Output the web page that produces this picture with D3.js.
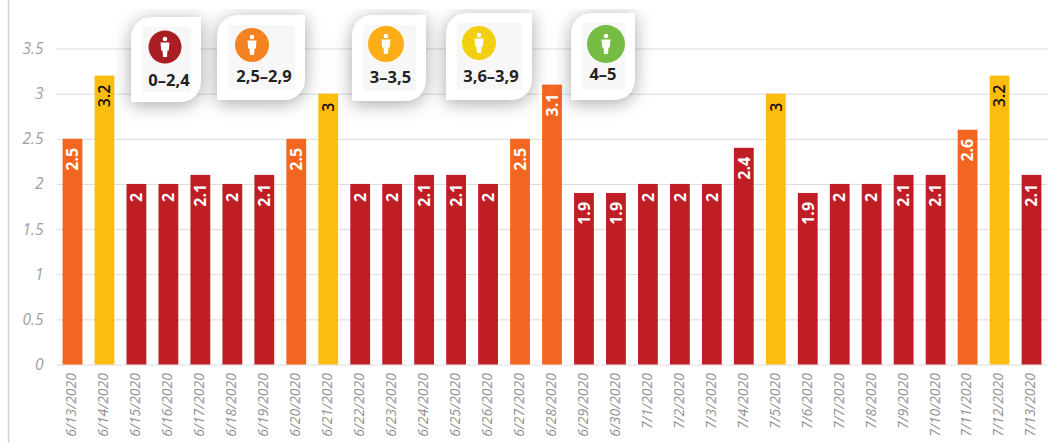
<!DOCTYPE html>
<html>
<head>
<meta charset="utf-8">
<script src="https://cdnjs.cloudflare.com/ajax/libs/d3/7.8.5/d3.min.js"></script>
<style>
    body { margin: 0; background: #fff; }
    svg { display: block; }
    text { font-family: "Open Sans", sans-serif; }
</style>
</head>
<body>
<div id="chart"></div>
<script>
const dates = ["6/13/2020", "6/14/2020", "6/15/2020", "6/16/2020", "6/17/2020", "6/18/2020", "6/19/2020", "6/20/2020",
    "6/21/2020", "6/22/2020", "6/23/2020", "6/24/2020", "6/25/2020", "6/26/2020", "6/27/2020", "6/28/2020",
    "6/29/2020", "6/30/2020", "7/1/2020", "7/2/2020", "7/3/2020", "7/4/2020", "7/5/2020", "7/6/2020",
    "7/7/2020", "7/8/2020", "7/9/2020", "7/10/2020", "7/11/2020", "7/12/2020", "7/13/2020"];
const values = [2.5, 3.2, 2, 2, 2.1, 2, 2.1, 2.5, 3, 2, 2, 2.1, 2.1, 2, 2.5, 3.1,
    1.9, 1.9, 2, 2, 2, 2.4, 3, 1.9, 2, 2, 2.1, 2.1, 2.6, 3.2, 2.1];
// 0 red, 1 orange, 2 yellow (6/28 is orange in the source even at 3.1)
const levels = [1, 2, 0, 0, 0, 0, 0, 1, 2, 0, 0, 0, 0, 0, 1, 1,
    0, 0, 0, 0, 0, 0, 2, 0, 0, 0, 0, 0, 1, 2, 0];
const yTicks = [0, 0.5, 1, 1.5, 2, 2.5, 3, 3.5];
const legendLabels = ["0\u20132,4", "2,5\u20132,9", "3\u20133,5", "3,6\u20133,9", "4\u20135"];

const width = 1050, height = 443;
const barColor = d3.scaleOrdinal([0, 1, 2], ["#bf1e25", "#f36621", "#fdbd10"]);
const labelColor = d3.scaleOrdinal([0, 1, 2], ["#fff", "#fff", "#111"]);

const svg = d3.select("#chart").append("svg")
    .attr("width", width)
    .attr("height", height);

const x = d3.scaleBand().domain(dates).range([56.5, 1047.5]).paddingInner(0.38).paddingOuter(0.19);
const y = d3.scaleLinear().domain([0, 3.5]).range([364.5, 48.5]);

// left border line
svg.append("line")
    .attr("x1", 8.5).attr("x2", 8.5)
    .attr("y1", 0).attr("y2", height)
    .attr("stroke", "#d2d2d2")
    .attr("stroke-width", 1.5);

const yAxis = svg.append("g")
    .attr("transform", "translate(56.5,0)")
    .call(d3.axisLeft(y).tickValues(yTicks).tickSize(-991).tickPadding(13).tickFormat(d => d));
yAxis.select(".domain").remove();
yAxis.selectAll("line").attr("stroke", "#dcdada");
yAxis.selectAll("text")
    .attr("fill", "#a0a0a0")
    .style("font-size", "15.5px")
    .style("font-style", "italic");

const xAxis = svg.append("g")
    .attr("transform", "translate(0,364)")
    .call(d3.axisBottom(x).tickSize(0));
xAxis.select(".domain").remove();
xAxis.selectAll("text")
    .attr("fill", "#8f8f8f")
    .attr("transform", "rotate(-90)")
    .attr("text-anchor", "end")
    .attr("x", -9)
    .attr("y", -1)
    .attr("dy", "0.35em")
    .style("font-size", "14px")
    .style("font-style", "italic");

svg.selectAll(".bar")
    .data(values)
    .enter().append("rect")
    .attr("class", "bar")
    .attr("fill", (d, i) => barColor(levels[i]))
    .attr("x", (d, i) => x(dates[i]))
    .attr("y", d => y(d))
    .attr("width", x.bandwidth())
    .attr("height", d => y(0) - y(d));

svg.selectAll(".bar-label")
    .data(values)
    .enter().append("text")
    .attr("class", "bar-label")
    .attr("transform", (d, i) => `translate(${x(dates[i]) + x.bandwidth() / 2},${y(d) + 9}) rotate(-90)`)
    .attr("text-anchor", "end")
    .attr("dy", "0.36em")
    .attr("fill", (d, i) => labelColor(levels[i]))
    .style("font-size", "16px")
    .style("font-weight", (d, i) => levels[i] === 2 ? 600 : 700)
    .text(d => d);

// legend cards sit on top of the chart
const legendColors = ["#a81e23", "#f58220", "#fbae17", "#f2d010", "#76bc43"];
const cards = [
    { x: 131, y: 17, w: 70, h: 85, cx: 165, cy: 47, r: 16.5, tx: 169, ty: 86 },
    { x: 217, y: 15, w: 88, h: 85, cx: 252, cy: 45, r: 17, tx: 264, ty: 82 },
    { x: 352, y: 15, w: 74, h: 86, cx: 386, cy: 44, r: 18, tx: 390.5, ty: 83 },
    { x: 446, y: 13, w: 86, h: 87, cx: 479, cy: 43, r: 17, tx: 491, ty: 82 },
    { x: 571, y: 13, w: 64, h: 87, cx: 606, cy: 44, r: 19, tx: 603, ty: 80 }
];

const defs = svg.append("defs");
const shadow = defs.append("filter").attr("id", "card-shadow")
    .attr("x", "-40%").attr("y", "-40%").attr("width", "180%").attr("height", "180%");
shadow.append("feDropShadow")
    .attr("dx", 0).attr("dy", 3)
    .attr("stdDeviation", 9)
    .attr("flood-color", "#000")
    .attr("flood-opacity", 0.35);
defs.append("clipPath").attr("id", "legend-clip")
    .append("rect").attr("x", 0).attr("y", 9).attr("width", width).attr("height", height);

// rounded top-left and bottom-right, square on the other two corners
function cardPath(c) {
    const r = 24;
    return `M${c.x + r},${c.y}H${c.x + c.w}V${c.y + c.h - r}Q${c.x + c.w},${c.y + c.h} ${c.x + c.w - r},${c.y + c.h}H${c.x}V${c.y + r}Q${c.x},${c.y} ${c.x + r},${c.y}Z`;
}

const legend = svg.append("g").attr("clip-path", "url(#legend-clip)");
const card = legend.selectAll(".card")
    .data(legendLabels)
    .enter().append("g")
    .attr("class", "card");

card.append("path")
    .attr("d", (d, i) => cardPath(cards[i]))
    .attr("fill", "#fff")
    .attr("filter", "url(#card-shadow)");
card.append("rect")
    .attr("x", (d, i) => cards[i].x + 11)
    .attr("y", (d, i) => cards[i].y + 10)
    .attr("width", (d, i) => cards[i].w - 21)
    .attr("height", (d, i) => cards[i].h - 20)
    .attr("rx", 3)
    .attr("fill", "#f7f7f7");
card.append("circle")
    .attr("cx", (d, i) => cards[i].cx)
    .attr("cy", (d, i) => cards[i].cy)
    .attr("r", (d, i) => cards[i].r)
    .attr("fill", (d, i) => legendColors[i]);

// little person inside each circle
const person = card.append("g")
    .attr("transform", (d, i) => `translate(${cards[i].cx},${cards[i].cy})`)
    .attr("fill", "#fff");
person.append("circle").attr("cy", -8).attr("r", 2.3);
person.append("path").attr("d", "M-4.5,-4.5H4.5L3.8,3.5H2.5L2,10H-2L-2.5,3.5H-3.8Z");

card.append("text")
    .attr("x", (d, i) => cards[i].tx)
    .attr("y", (d, i) => cards[i].ty)
    .attr("text-anchor", "middle")
    .attr("fill", "#222")
    .style("font-size", "16.5px")
    .style("font-weight", 700)
    .text(d => d);
</script>
</body>
</html>
